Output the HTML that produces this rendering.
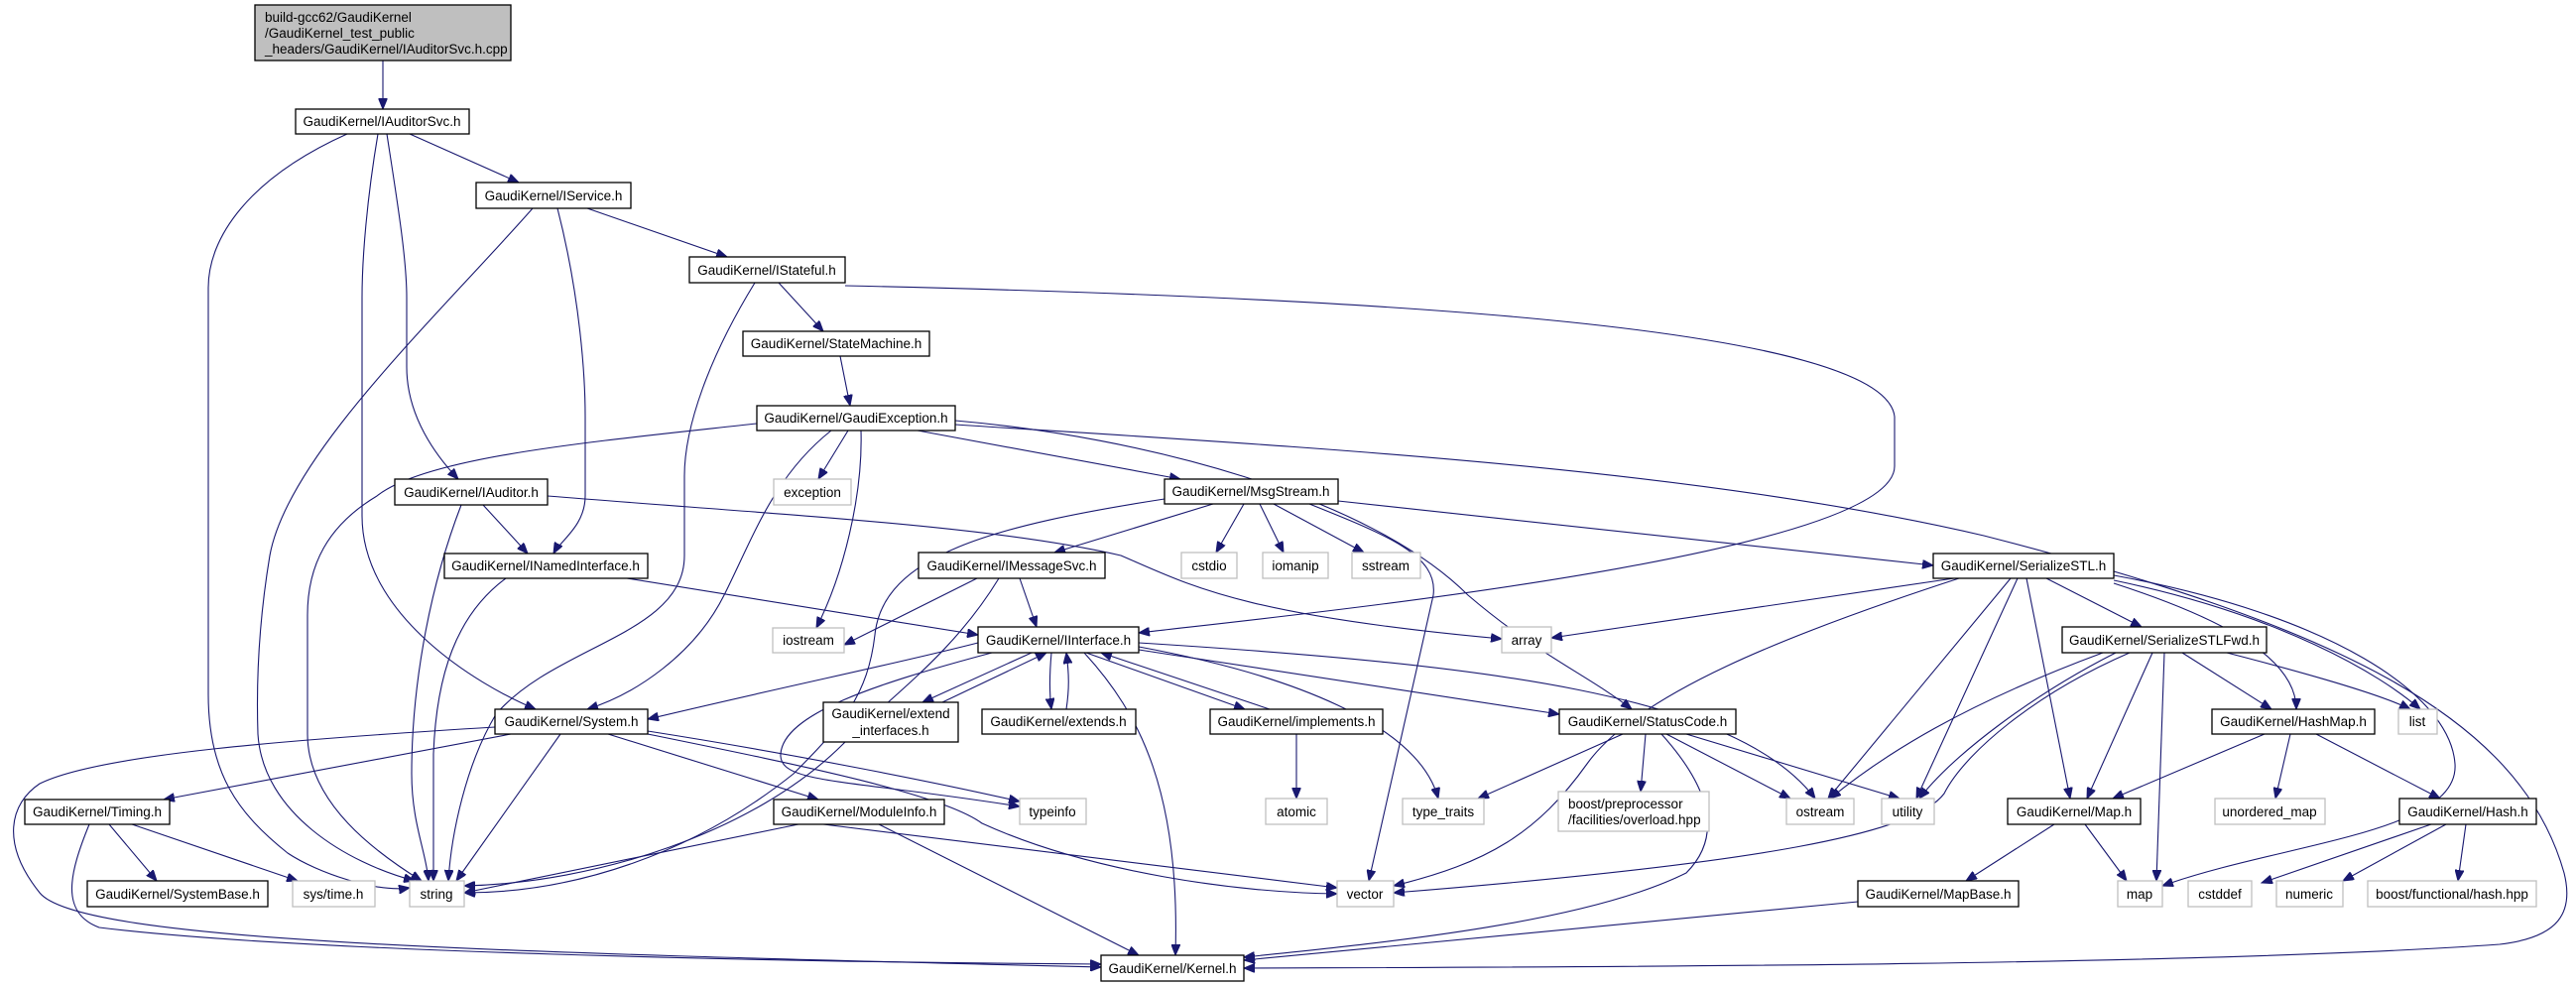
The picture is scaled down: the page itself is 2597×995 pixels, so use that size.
<!DOCTYPE html>
<html><head><meta charset="utf-8"><style>
html,body{margin:0;padding:0;background:#fff;}
svg{display:block;}
text{font-family:"Liberation Sans",sans-serif;font-size:13.5px;fill:#000;}
.n{fill:#fff;stroke:#000;stroke-width:1.3;}
.g{fill:#fff;stroke:#bfbfbf;stroke-width:1.3;}
.e{fill:none;stroke:#191970;stroke-width:1.1;}
</style></head><body>
<svg width="2597" height="995" viewBox="0 0 2597 995" xmlns="http://www.w3.org/2000/svg">
<defs><marker id="a" markerUnits="userSpaceOnUse" markerWidth="12" markerHeight="9" refX="11" refY="4.5" orient="auto"><path d="M0,0 L11,4.5 L0,9 z" fill="#191970" stroke="#191970"/></marker></defs>
<g class="e" marker-end="url(#a)">
<path d="M386,61 L386,110"/>
<path d="M350,135 C250,180 210,240 210,290 L210,700 C210,780 240,820 290,860 C320,880 380,900 413,895"/>
<path d="M381,135 C370,200 365,260 365,300 L365,520 C365,620 480,690 540,715"/>
<path d="M390,135 C400,200 410,260 410,300 L410,370 C410,420 440,460 462,483"/>
<path d="M413,135 L523,184"/>
<path d="M537,210 C440,320 290,460 272,560 C262,620 258,680 260,740 C265,820 350,870 418,888"/>
<path d="M562,210 C585,300 590,380 590,420 L590,500 C590,530 565,545 558,558"/>
<path d="M592,210 L733,259"/>
<path d="M761,285 C715,360 690,430 690,480 L690,560 C690,640 560,650 500,720 C470,770 455,840 452,888"/>
<path d="M785,285 L830,334"/>
<path d="M852,288 C1400,300 1900,330 1910,420 L1910,470 C1910,560 1300,620 1148,638"/>
<path d="M847,359 L857,409"/>
<path d="M763,427 C600,445 430,460 380,500 C330,530 310,570 310,620 L310,740 C310,810 380,860 425,888"/>
<path d="M855,434 L825,483"/>
<path d="M868,434 C870,500 850,580 823,633"/>
<path d="M838,434 C780,480 760,540 730,600 C700,660 640,700 592,715"/>
<path d="M925,434 L1190,483"/>
<path d="M963,424 C1150,440 1380,500 1480,600 C1550,660 1600,680 1645,715"/>
<path d="M963,428 C1300,450 1700,470 2000,540 C2350,630 2540,720 2585,880 C2595,920 2580,945 2520,952 C2200,975 1500,975 1254,976"/>
<path d="M465,509 C430,600 415,700 415,780 C415,830 430,860 432,888"/>
<path d="M487,509 L532,558"/>
<path d="M552,500 C800,520 1000,530 1130,560 C1200,590 1250,620 1514,644"/>
<path d="M510,583 C460,620 440,680 437,760 L437,888"/>
<path d="M632,583 L986,640"/>
<path d="M1223,508 L1063,557"/>
<path d="M1254,508 L1226,557"/>
<path d="M1270,508 L1294,557"/>
<path d="M1284,508 L1375,557"/>
<path d="M1174,503 C1000,530 890,560 882,640 C875,700 850,730 800,780 C700,860 580,900 468,900"/>
<path d="M1320,508 C1400,540 1450,560 1445,600 L1380,888"/>
<path d="M1349,505 L1949,570"/>
<path d="M985,583 L851,650"/>
<path d="M1028,583 L1045,632"/>
<path d="M1007,583 C960,660 900,700 850,750 C760,840 600,890 468,893"/>
<path d="M986,648 C900,670 800,690 653,725"/>
<path d="M1040,658 L930,708"/>
<path d="M950,708 L1055,658"/>
<path d="M1060,658 C1058,680 1058,700 1060,715"/>
<path d="M1075,715 C1078,695 1078,680 1075,658"/>
<path d="M1095,658 L1255,715"/>
<path d="M1280,715 L1110,658"/>
<path d="M1093,658 C1150,720 1190,800 1185,963"/>
<path d="M1148,655 L1572,720"/>
<path d="M1148,652 C1300,680 1430,730 1450,805"/>
<path d="M1148,648 C1500,670 1750,700 1830,805"/>
<path d="M1000,658 C880,690 790,720 787,760 C785,790 850,785 1028,813"/>
<path d="M1307,740 L1307,805"/>
<path d="M499,733 C300,745 100,760 40,790 C10,810 0,850 40,900 C80,950 500,960 1110,975"/>
<path d="M515,740 L165,806"/>
<path d="M565,740 L460,888"/>
<path d="M613,740 L825,806"/>
<path d="M653,737 C800,760 950,790 1028,808"/>
<path d="M653,740 C800,770 950,800 990,830 C1100,880 1250,900 1348,901"/>
<path d="M110,831 L158,888"/>
<path d="M133,831 L300,888"/>
<path d="M90,831 C70,880 60,920 100,935 C300,960 800,970 1110,972"/>
<path d="M805,831 L468,900"/>
<path d="M830,831 L1348,895"/>
<path d="M886,831 L1148,963"/>
<path d="M1636,740 L1490,805"/>
<path d="M1659,740 L1654,798"/>
<path d="M1680,740 L1805,805"/>
<path d="M1700,740 L1915,805"/>
<path d="M1675,740 C1720,790 1740,840 1700,880 C1600,930 1400,950 1254,965"/>
<path d="M1970,583 L1564,643"/>
<path d="M1975,583 C1800,640 1650,700 1600,770 C1550,840 1500,870 1405,893"/>
<path d="M2027,583 L1843,805"/>
<path d="M2034,583 L1932,805"/>
<path d="M2043,583 L2087,805"/>
<path d="M2063,583 L2159,632"/>
<path d="M2131,588 C2230,620 2315,660 2315,715"/>
<path d="M2131,585 C2300,620 2400,680 2440,715"/>
<path d="M2131,580 C2350,620 2470,700 2475,770 C2480,840 2300,850 2180,893"/>
<path d="M2120,658 C1980,710 1900,760 1845,805"/>
<path d="M2133,658 C2050,700 1970,760 1935,805"/>
<path d="M2147,658 C2050,700 1980,760 1960,800 C1930,840 1780,870 1405,900"/>
<path d="M2170,658 L2104,805"/>
<path d="M2182,658 L2174,888"/>
<path d="M2200,658 L2290,715"/>
<path d="M2245,658 C2330,680 2400,700 2430,715"/>
<path d="M2283,740 L2130,805"/>
<path d="M2309,740 L2294,805"/>
<path d="M2335,740 L2460,805"/>
<path d="M2071,831 L1982,888"/>
<path d="M2102,831 L2144,888"/>
<path d="M1873,909 L1254,968"/>
<path d="M2451,831 L2280,890"/>
<path d="M2466,831 L2362,888"/>
<path d="M2486,831 L2478,888"/>
</g>
<rect x="257" y="5" width="258" height="56" fill="#bfbfbf" stroke="#000" stroke-width="1.3"/>
<text x="267" y="22">build-gcc62/GaudiKernel</text>
<text x="267" y="38">/GaudiKernel_test_public</text>
<text x="267" y="54">_headers/GaudiKernel/IAuditorSvc.h.cpp</text>
<g text-anchor="middle">
<rect class="n" x="298" y="110" width="175" height="25"/><text x="385" y="127">GaudiKernel/IAuditorSvc.h</text>
<rect class="n" x="480" y="184" width="156" height="26"/><text x="558" y="202">GaudiKernel/IService.h</text>
<rect class="n" x="695" y="259" width="157" height="26"/><text x="773" y="277">GaudiKernel/IStateful.h</text>
<rect class="n" x="749" y="334" width="188" height="25"/><text x="843" y="351">GaudiKernel/StateMachine.h</text>
<rect class="n" x="763" y="409" width="200" height="25"/><text x="863" y="426">GaudiKernel/GaudiException.h</text>
<rect class="g" x="780" y="483" width="78" height="26"/><text x="819" y="501">exception</text>
<rect class="n" x="398" y="483" width="154" height="26"/><text x="475" y="501">GaudiKernel/IAuditor.h</text>
<rect class="n" x="448" y="558" width="205" height="25"/><text x="550" y="575">GaudiKernel/INamedInterface.h</text>
<rect class="g" x="779" y="633" width="72" height="25"/><text x="815" y="650">iostream</text>
<rect class="n" x="1174" y="483" width="175" height="25"/><text x="1261" y="500">GaudiKernel/MsgStream.h</text>
<rect class="n" x="926" y="557" width="188" height="26"/><text x="1020" y="575">GaudiKernel/IMessageSvc.h</text>
<rect class="g" x="1191" y="557" width="56" height="26"/><text x="1219" y="575">cstdio</text>
<rect class="g" x="1273" y="557" width="66" height="26"/><text x="1306" y="575">iomanip</text>
<rect class="g" x="1363" y="557" width="69" height="26"/><text x="1397" y="575">sstream</text>
<rect class="n" x="986" y="632" width="162" height="26"/><text x="1067" y="650">GaudiKernel/IInterface.h</text>
<rect class="g" x="1514" y="632" width="50" height="26"/><text x="1539" y="650">array</text>
<rect class="n" x="1949" y="558" width="182" height="25"/><text x="2040" y="575">GaudiKernel/SerializeSTL.h</text>
<rect class="n" x="2079" y="632" width="206" height="26"/><text x="2182" y="650">GaudiKernel/SerializeSTLFwd.h</text>
<rect class="n" x="499" y="715" width="154" height="25"/><text x="576" y="732">GaudiKernel/System.h</text>
<rect class="n" x="830" y="708" width="136" height="40"/><text x="898" y="724">GaudiKernel/extend</text><text x="898" y="741">_interfaces.h</text>
<rect class="n" x="990" y="715" width="155" height="25"/><text x="1067" y="732">GaudiKernel/extends.h</text>
<rect class="n" x="1220" y="715" width="174" height="25"/><text x="1307" y="732">GaudiKernel/implements.h</text>
<rect class="n" x="1572" y="715" width="178" height="25"/><text x="1661" y="732">GaudiKernel/StatusCode.h</text>
<rect class="n" x="2230" y="715" width="164" height="25"/><text x="2312" y="732">GaudiKernel/HashMap.h</text>
<rect class="g" x="2418" y="715" width="39" height="25"/><text x="2437" y="732">list</text>
<rect class="n" x="25" y="806" width="146" height="25"/><text x="98" y="823">GaudiKernel/Timing.h</text>
<rect class="n" x="780" y="806" width="172" height="25"/><text x="866" y="823">GaudiKernel/ModuleInfo.h</text>
<rect class="g" x="1028" y="805" width="67" height="26"/><text x="1061" y="823">typeinfo</text>
<rect class="g" x="1276" y="805" width="62" height="26"/><text x="1307" y="823">atomic</text>
<rect class="g" x="1414" y="805" width="82" height="26"/><text x="1455" y="823">type_traits</text>
<rect class="g" x="1571" y="798" width="152" height="40"/><text x="1581" y="815" text-anchor="start">boost/preprocessor</text><text x="1581" y="831" text-anchor="start">/facilities/overload.hpp</text>
<rect class="g" x="1801" y="805" width="68" height="26"/><text x="1835" y="823">ostream</text>
<rect class="g" x="1897" y="805" width="53" height="26"/><text x="1923" y="823">utility</text>
<rect class="n" x="2024" y="805" width="134" height="26"/><text x="2091" y="823">GaudiKernel/Map.h</text>
<rect class="g" x="2233" y="805" width="111" height="26"/><text x="2288" y="823">unordered_map</text>
<rect class="n" x="2419" y="805" width="138" height="26"/><text x="2488" y="823">GaudiKernel/Hash.h</text>
<rect class="n" x="88" y="888" width="182" height="26"/><text x="179" y="906">GaudiKernel/SystemBase.h</text>
<rect class="g" x="295" y="888" width="83" height="26"/><text x="336" y="906">sys/time.h</text>
<rect class="g" x="413" y="888" width="55" height="26"/><text x="440" y="906">string</text>
<rect class="g" x="1348" y="888" width="57" height="26"/><text x="1376" y="906">vector</text>
<rect class="n" x="1873" y="888" width="162" height="26"/><text x="1954" y="906">GaudiKernel/MapBase.h</text>
<rect class="g" x="2135" y="888" width="45" height="26"/><text x="2157" y="906">map</text>
<rect class="g" x="2206" y="888" width="64" height="26"/><text x="2238" y="906">cstddef</text>
<rect class="g" x="2295" y="888" width="67" height="26"/><text x="2328" y="906">numeric</text>
<rect class="g" x="2387" y="888" width="170" height="26"/><text x="2472" y="906">boost/functional/hash.hpp</text>
<rect class="n" x="1110" y="963" width="144" height="26"/><text x="1182" y="981">GaudiKernel/Kernel.h</text>
</g>
</svg>
</body></html>
